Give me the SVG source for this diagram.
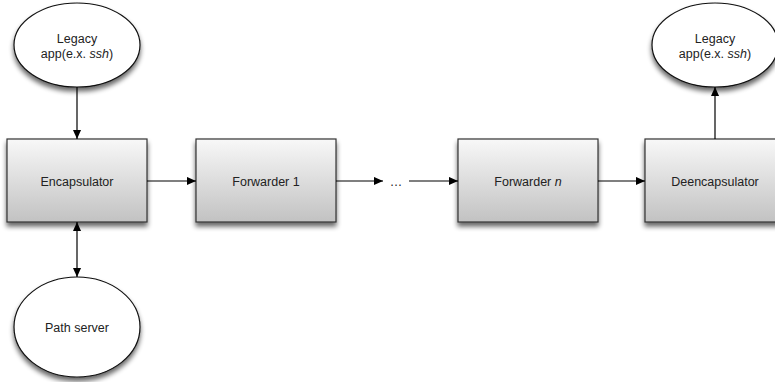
<svg xmlns="http://www.w3.org/2000/svg" width="775" height="382" viewBox="0 0 775 382">
<defs>
  <linearGradient id="boxg" x1="0" y1="0" x2="0" y2="1">
    <stop offset="0" stop-color="#f8f8f8"/>
    <stop offset="1" stop-color="#c2c2c2"/>
  </linearGradient>
  <filter id="sh" x="-20%" y="-20%" width="140%" height="150%">
    <feGaussianBlur in="SourceAlpha" stdDeviation="2.5"/>
    <feOffset dx="0" dy="4" result="b"/>
    <feComponentTransfer><feFuncA type="linear" slope="0.6"/></feComponentTransfer>
    <feMerge><feMergeNode/><feMergeNode in="SourceGraphic"/></feMerge>
  </filter>
  <marker id="ah" viewBox="0 0 10 10" refX="10" refY="5" markerWidth="9" markerHeight="9" markerUnits="userSpaceOnUse" orient="auto-start-reverse">
    <path d="M0,0.5 L10,5 L0,9.5 z" fill="#000"/>
  </marker>
</defs>
<style>
  .box { fill: url(#boxg); stroke: #333; stroke-width: 1.2; filter: url(#sh); }
  .ell { fill: #fff; stroke: #111; stroke-width: 1.2; filter: url(#sh); }
  .t { font-family: "Liberation Sans", Arial, sans-serif; font-size: 12.5px; fill: #222; text-anchor: middle; }
  .c { stroke: #000; stroke-width: 1.2; fill: none; }
</style>
<rect width="775" height="382" fill="#fff"/>
<g id="legacy-left">
  <ellipse class="ell" cx="77" cy="45" rx="63" ry="42"/>
  <text class="t" x="77" y="43">Legacy</text>
  <text class="t" x="77" y="57.5">app(e.x. <tspan font-style="italic">ssh</tspan>)</text>
</g>
<g id="encapsulator">
  <rect class="box" x="7" y="139" width="140" height="83"/>
  <text class="t" x="77" y="185.5">Encapsulator</text>
</g>
<g id="path-server">
  <ellipse class="ell" cx="77" cy="327" rx="63" ry="50"/>
  <text class="t" x="77" y="331.5">Path server</text>
</g>
<g id="forwarder-1">
  <rect class="box" x="196" y="139" width="140" height="83"/>
  <text class="t" x="266" y="185.5">Forwarder 1</text>
</g>
<g id="ellipsis">
  <text class="t" x="396" y="185.5">…</text>
</g>
<g id="forwarder-n">
  <rect class="box" x="458" y="139" width="140" height="83"/>
  <text class="t" x="528" y="185.5">Forwarder <tspan font-style="italic">n</tspan></text>
</g>
<g id="deencapsulator">
  <rect class="box" x="645" y="139" width="140" height="83"/>
  <text class="t" x="715" y="185.5">Deencapsulator</text>
</g>
<g id="legacy-right">
  <ellipse class="ell" cx="715" cy="45" rx="63" ry="42"/>
  <text class="t" x="715" y="43">Legacy</text>
  <text class="t" x="715" y="57.5">app(e.x. <tspan font-style="italic">ssh</tspan>)</text>
</g>
<g id="connectors">
  <line class="c" x1="77" y1="87" x2="77" y2="139" marker-end="url(#ah)"/>
  <line class="c" x1="77" y1="222" x2="77" y2="277" marker-start="url(#ah)" marker-end="url(#ah)"/>
  <line class="c" x1="147" y1="181" x2="196" y2="181" marker-end="url(#ah)"/>
  <line class="c" x1="336" y1="181" x2="383" y2="181" marker-end="url(#ah)"/>
  <line class="c" x1="409" y1="181" x2="458" y2="181" marker-end="url(#ah)"/>
  <line class="c" x1="598" y1="181" x2="645" y2="181" marker-end="url(#ah)"/>
  <line class="c" x1="715" y1="139" x2="715" y2="87" marker-end="url(#ah)"/>
</g>
</svg>
